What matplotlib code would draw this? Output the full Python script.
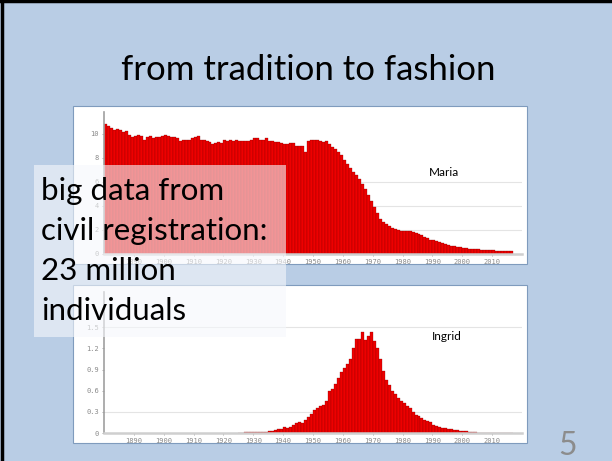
import matplotlib
matplotlib.use("Agg")
import matplotlib.pyplot as plt
from matplotlib.patches import Rectangle
import numpy as np

# share of girls given the name, per birth year
maria_years = list(range(1880, 2017))
maria_values = [
    10.8, 10.6, 10.5, 10.3, 10.4, 10.3, 10.1, 10.2, 9.9, 9.7,
    9.8, 9.9, 9.8, 9.5, 9.7, 9.8, 9.6, 9.7, 9.7, 9.8,
    9.9, 9.8, 9.7, 9.7, 9.6, 9.4, 9.5, 9.5, 9.5, 9.6,
    9.7, 9.8, 9.5, 9.5, 9.4, 9.3, 9.1, 9.2, 9.3, 9.25,
    9.5, 9.4, 9.5, 9.4, 9.5, 9.4, 9.4, 9.4, 9.4, 9.5,
    9.6, 9.6, 9.5, 9.5, 9.6, 9.4, 9.4, 9.3, 9.3, 9.2,
    9.1, 9.15, 9.2, 9.2, 9.0, 9.0, 9.0, 8.45, 9.4, 9.5,
    9.5, 9.45, 9.4, 9.3, 9.4, 9.15, 8.9, 8.7, 8.5, 8.25,
    7.8, 7.5, 7.15, 6.85, 6.55, 6.2, 5.8, 5.4, 4.9, 4.4,
    3.9, 3.4, 2.9, 2.65, 2.5, 2.35, 2.2, 2.1, 2.0, 1.95,
    1.9, 1.9, 1.9, 1.85, 1.75, 1.65, 1.55, 1.4, 1.3, 1.2,
    1.15, 1.05, 1.0, 0.9, 0.82, 0.75, 0.7, 0.65, 0.6, 0.55,
    0.5, 0.48, 0.45, 0.42, 0.4, 0.38, 0.36, 0.34, 0.32, 0.3,
    0.3, 0.28, 0.27, 0.26, 0.25, 0.24, 0.23,
]

ingrid_years = list(range(1925, 2017))
ingrid_values = [
    0.005, 0.005, 0.01, 0.01, 0.01, 0.01, 0.01, 0.015, 0.02, 0.02,
    0.025, 0.03, 0.04, 0.05, 0.06, 0.08, 0.07, 0.09, 0.11, 0.14,
    0.16, 0.14, 0.18, 0.22, 0.27, 0.32, 0.36, 0.38, 0.4, 0.46,
    0.6, 0.62, 0.7, 0.78, 0.86, 0.92, 0.98, 1.05, 1.2, 1.34,
    1.33, 1.43, 1.32, 1.37, 1.43, 1.3, 1.2, 1.05, 0.88, 0.75,
    0.68, 0.6, 0.55, 0.5, 0.46, 0.42, 0.38, 0.35, 0.3, 0.26,
    0.24, 0.21, 0.19, 0.17, 0.15, 0.12, 0.1, 0.08, 0.07, 0.07,
    0.06, 0.05, 0.04, 0.04, 0.03, 0.03, 0.03, 0.02, 0.015, 0.01,
    0.005, 0.005, 0.005, 0.005, 0.005, 0.005, 0.005, 0.005, 0.005, 0.005,
    0.005, 0.005,
]

year_ticks = list(range(1890, 2011, 10))
maria_yticks = [0, 2, 4, 6, 8, 10]
maria_grid = [2, 4, 6]
ingrid_yticks = [0, 0.3, 0.6, 0.9, 1.2, 1.5]
ingrid_grid = [0.3, 1.5]

title = "from tradition to fashion"
box_lines = ["big data from", "civil registration:", "23 million", "individuals"]

W, H = 612, 461
BG = "#b9cde5"
RED = "#ee0000"
FONT = ["Lato", "DejaVu Sans"]

fig = plt.figure(figsize=(W / 100, H / 100), dpi=100)
fig.patch.set_facecolor(BG)


def px_rect(x0, y0, x1, y1):
    return [x0 / W, 1 - y1 / H, (x1 - x0) / W, (y1 - y0) / H]


# slide layer
bg = fig.add_axes([0, 0, 1, 1], zorder=0)
bg.set_xlim(0, W)
bg.set_ylim(H, 0)
bg.axis("off")
bg.add_patch(Rectangle((73, 106), 454, 158, facecolor="white", edgecolor="#7f9bbd", lw=0.8))
bg.add_patch(Rectangle((73, 285), 454, 158, facecolor="white", edgecolor="#7f9bbd", lw=0.8))
bg.plot([1.5, 1.5], [0, H], color="black", lw=2.5)
bg.plot([0, W], [1.5, 1.5], color="black", lw=2.5)
bg.text(308, 80, title, ha="center", va="baseline", fontsize=25, family=FONT, color="black")
bg.text(568, 455, "5", ha="center", va="baseline", fontsize=23, family=FONT, color="#8c8c8c")


def draw_chart(rect, years, values, ylim, yticks, grid, label, label_xy):
    ax = fig.add_axes(rect, zorder=1)
    ax.patch.set_alpha(0)
    for g in grid:
        ax.axhline(g, color="#e4e4e4", lw=0.8, zorder=0)
    ax.bar(years, values, width=1.0, align="edge", color=RED,
           edgecolor="#7a0000", linewidth=0.2, zorder=2)
    ax.set_xlim(1880, 2020)
    ax.set_ylim(*ylim)
    ax.set_xticks(year_ticks)
    ax.set_yticks(yticks)
    ax.set_yticklabels([f"{t:g}" for t in yticks])
    ax.tick_params(labelsize=5, colors="#8a8a8a", length=1.5, width=0.5, pad=2)
    for t in ax.get_xticklabels() + ax.get_yticklabels():
        t.set_family("DejaVu Sans Mono")
    for s in ["top", "right"]:
        ax.spines[s].set_visible(False)
    ax.spines["left"].set_color("#a0a0a0")
    ax.spines["left"].set_linewidth(1.2)
    ax.spines["bottom"].set_color("#cfcfcf")
    ax.spines["bottom"].set_linewidth(1.8)
    ax.text(label_xy[0], label_xy[1], label, transform=ax.transAxes,
            ha="center", va="center", fontsize=8.5, family=FONT)
    return ax


draw_chart(px_rect(104, 112, 522, 254), maria_years, maria_values, (0, 11.8),
           maria_yticks, maria_grid, "Maria", ((444 - 104) / 418, (254 - 173) / 142))
draw_chart(px_rect(104, 292, 522, 433), ingrid_years, ingrid_values, (0, 2.0),
           ingrid_yticks, ingrid_grid, "Ingrid", ((447 - 104) / 418, (433 - 336) / 141))

# translucent text box on top
ov = fig.add_axes([0, 0, 1, 1], zorder=3)
ov.set_xlim(0, W)
ov.set_ylim(H, 0)
ov.axis("off")
ov.patch.set_alpha(0)
ov.add_patch(Rectangle((34, 165), 252, 172, facecolor="#f6f8fc", edgecolor="none", alpha=0.6))
for i, line in enumerate(box_lines):
    ov.text(41, 200 + 40 * i, line, ha="left", va="baseline", fontsize=22.5,
            family=FONT, color="black")

fig.savefig("out.png", dpi=100, facecolor=BG)
